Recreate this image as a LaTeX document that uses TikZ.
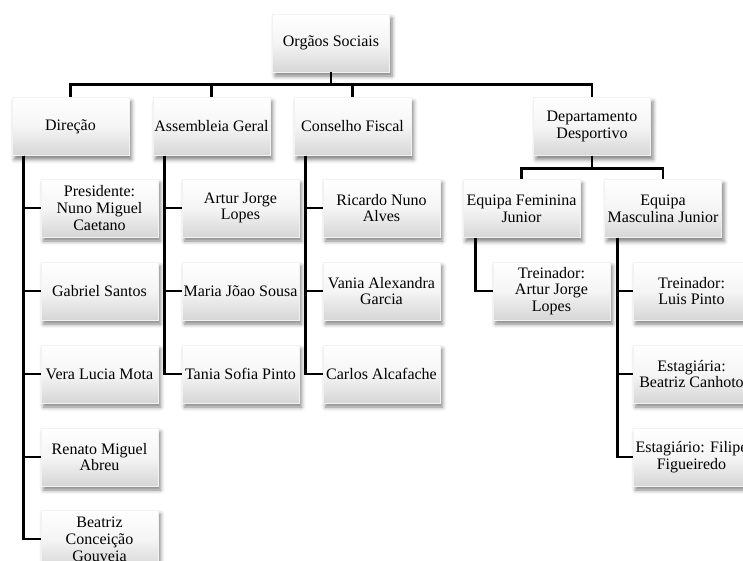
\documentclass[tikz,border=0pt]{standalone}
\usepackage{fontspec}
\setmainfont{Liberation Serif}
\usepackage{tikz}
\usetikzlibrary{
  positioning,
  shadows.blur
}
\definecolor{BoxTop}{HTML}{FFFFFF}
\definecolor{BoxMid}{HTML}{F5F5F5}
\definecolor{BoxBottom}{HTML}{D6D6D6}
\definecolor{LinkBlack}{HTML}{000000}

\begin{document}
\begin{tikzpicture}[
    x=1pt, y=1pt,
    every node/.style={font=\fontsize{16}{16.8}\selectfont},
    cargo/.style={minimum width=117pt, minimum height=58pt, inner sep=1pt,
      align=center, top color=BoxTop, bottom color=BoxBottom, middle color=BoxMid,
      draw=black!5,
      blur shadow={shadow xshift=2.5pt, shadow yshift=-4pt,
        shadow blur radius=4pt, shadow opacity=50}},
    liga/.style={draw=LinkBlack, line width=2.8pt}
  ]
    \useasboundingbox (0,0) rectangle (743,-560);
    \clip (0,0) rectangle (743,-560);
    % top box and first level
    \node[cargo] (orgaos) at (331,-43) {Orgãos Sociais};
    \node[cargo] (direcao) at (70.5,-126.5) {Direção};
    \node[cargo] (assembleia) at (211.5,-126.5) {Assembleia Geral};
    \node[cargo] (conselho) at (352.5,-126.5) {Conselho Fiscal};
    \node[cargo] (depto) at (592,-126.5) {Departamento\\Desportivo};
    \foreach \chefe in {direcao,assembleia,conselho,depto}
      \draw[liga] (orgaos.south) -- ++(0,-12) -| (\chefe.north);
    % direcao members
    \node[cargo] (presidente) at (99.5,-208) {Presidente:\\Nuno Miguel\\Caetano};
    \node[cargo] (gabriel) at (99.5,-291) {Gabriel Santos};
    \node[cargo] (vera) at (99.5,-374) {Vera Lucia Mota};
    \node[cargo] (renato) at (99.5,-457) {Renato Miguel\\Abreu};
    \node[cargo] (beatriz) at (99.5,-539) {Beatriz\\Conceição\\Gouveia};
    \foreach \membro in {presidente,gabriel,vera,renato,beatriz}
      \draw[liga] ([xshift=12pt]direcao.south west) |- (\membro.west);
    % assembleia members
    \node[cargo] (artur) at (240.5,-208) {Artur Jorge\\Lopes};
    \node[cargo] (maria) at (240.5,-291) {Maria Jõao Sousa};
    \node[cargo] (tania) at (240.5,-374) {Tania Sofia Pinto};
    \foreach \membro in {artur,maria,tania}
      \draw[liga] ([xshift=12pt]assembleia.south west) |- (\membro.west);
    % conselho members
    \node[cargo] (ricardo) at (381.5,-208) {Ricardo Nuno\\Alves};
    \node[cargo] (vania) at (381.5,-291) {Vania Alexandra\\Garcia};
    \node[cargo] (carlos) at (381.5,-374) {Carlos Alcafache};
    \foreach \membro in {ricardo,vania,carlos}
      \draw[liga] ([xshift=12pt]conselho.south west) |- (\membro.west);
    % teams
    \node[cargo] (feminina) at (521.5,-208.5) {Equipa Feminina\\Junior};
    \node[cargo] (masculina) at (663,-208.5) {Equipa\\Masculina Junior};
    \foreach \equipa in {feminina,masculina}
      \draw[liga] (depto.south) -- ++(0,-13) -| (\equipa.north);
    \node[cargo] (treinadorf) at (551.5,-291) {Treinador:\\Artur Jorge\\Lopes};
    \draw[liga] ([xshift=13pt]feminina.south west) |- (treinadorf.west);
    \node[cargo] (treinadorm) at (691.5,-291) {Treinador:\\Luis Pinto};
    \node[cargo] (estagiaria) at (691.5,-374) {Estagiária:\\Beatriz Canhoto};
    \node[cargo] (estagiario) at (691.5,-457) {Estagiário: Filipe\\Figueiredo};
    \foreach \membro in {treinadorm,estagiaria,estagiario}
      \draw[liga] ([xshift=13pt]masculina.south west) |- (\membro.west);
  \end{tikzpicture}
\end{document}
